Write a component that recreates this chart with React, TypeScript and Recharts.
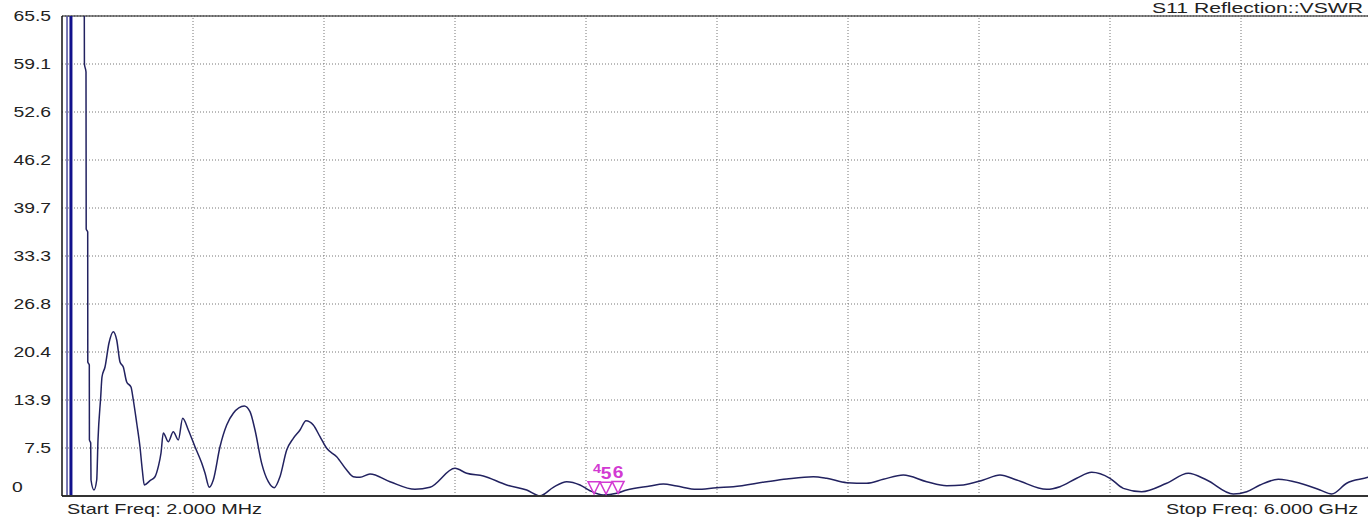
import React from 'react';
import {
  ComposedChart,
  Line,
  Scatter,
  XAxis,
  YAxis,
  CartesianGrid,
  ReferenceLine,
} from 'recharts';

// Frequency in MHz
const FREQ = [
  104.1, 104.6, 111.9, 112.8, 119.7, 120.1, 127.0, 127.5, 133.4, 134.8,
  148.5, 160.9, 166.8, 179.2, 185.1, 198.9, 217.2, 236.9, 252.5, 267.6,
  282.7, 298.2, 317.9, 328.5, 344.0, 359.1, 369.7, 378.8, 404.9, 427.8,
  442.9, 455.3, 465.8, 488.7, 511.6, 534.5, 554.6, 580.3, 610.9, 641.6,
  656.7, 676.4, 694.7, 725.4, 756.1, 786.3, 836.7, 862.8, 885.7, 916.3,
  946.6, 974.0, 1000.1, 1030.8, 1061.0, 1091.7, 1119.2, 1152.6, 1183.3, 1213.9,
  1259.7, 1305.5, 1335.7, 1366.4, 1412.2, 1503.8, 1618.2, 1686.9, 1801.4, 1855.0,
  1931.0, 2038.1, 2129.7, 2190.6, 2251.5, 2312.9, 2373.7, 2419.5, 2480.4, 2541.8,
  2587.6, 2694.3, 2755.2, 2816.6, 2908.1, 2999.7, 3075.7, 3228.6, 3320.2, 3442.0,
  3503.4, 3595.0, 3686.4, 3762.4, 3854.0, 3961.2, 4052.7, 4128.7, 4220.3, 4296.7,
  4373.2, 4510.6, 4571.4, 4647.9, 4716.6, 4800.4, 4861.3, 4945.5, 5060.0, 5158.9,
  5243.2, 5364.9, 5426.3, 5487.2, 5571.0, 5670.3, 5761.9, 5815.4, 5884.1, 5981.6,
  6000,
];

// VSWR values
const VSWR = [
  65.5, 59.05, 57.98, 36.88, 36.48, 19.0, 18.6, 8.53, 8.12, 3.15,
  1.81, 3.15, 8.53, 14.3, 16.99, 18.33, 21.56, 23.08, 21.96, 19.0,
  18.33, 16.32, 15.65, 13.9, 10.81, 7.58, 4.49, 2.48, 3.06, 3.59,
  4.94, 6.78, 9.47, 8.3, 9.64, 8.53, 11.44, 9.87, 7.62, 5.43,
  4.09, 2.17, 3.15, 7.62, 10.54, 12.11, 13.09, 12.33, 9.87, 5.39,
  2.92, 2.12, 3.59, 7.18, 8.75, 9.87, 11.12, 10.54, 8.97, 7.41,
  6.28, 4.49, 3.59, 3.51, 3.96, 2.92, 1.9, 2.17, 4.72, 4.05,
  3.69, 2.48, 1.81, 1.04, 2.17, 2.92, 2.48, 1.71, 1.13, 1.36,
  1.81, 2.34, 2.61, 2.34, 1.9, 2.12, 2.25, 2.92, 3.28, 3.59,
  3.38, 2.79, 2.71, 3.24, 3.82, 2.92, 2.38, 2.48, 3.15, 3.82,
  3.15, 1.9, 2.25, 3.38, 4.18, 3.38, 2.03, 1.58, 2.71, 4.05,
  3.15, 1.27, 1.58, 2.48, 3.24, 2.71, 1.81, 1.27, 2.71, 3.51,
  3.7,
];

const Y_TICKS = [1, 7.45, 13.9, 20.35, 26.8, 33.25, 39.7, 46.15, 52.6, 59.05, 65.5];
const Y_TICK_LABELS = ['0', '7.5', '13.9', '20.4', '26.8', '33.3', '39.7', '46.2', '52.6', '59.1', '65.5'];
const X_TICKS = [2, 601.8, 1201.6, 1801.4, 2401.2, 3001, 3600.8, 4200.6, 4800.4, 5400.2, 6000];

const MARKER_FREQ = [2438, 2493, 2548];
const MARKER_VSWR = [1.3, 1.25, 1.35];
const MARKER_LABELS = ['4', '5', '6'];

const BAND_LINES = [25, 43];

const TITLE = 'S11 Reflection::VSWR';
const START_LABEL = 'Start Freq: 2.000 MHz';
const STOP_LABEL = 'Stop Freq: 6.000 GHz';

const traceData = FREQ.map((f, i) => ({ f, v: VSWR[i] }));
const markerData = MARKER_FREQ.map((f, i) => ({ f, v: MARKER_VSWR[i], label: MARKER_LABELS[i] }));

const FONT = '"Liberation Sans", Arial, sans-serif';
const MAGENTA = '#d23ad2';

const YTick = (props: any) => {
  const { x, y, index } = props;
  const label = Y_TICK_LABELS[index];
  if (index === 0) {
    return (
      <g transform={`translate(12,${y - 4})`}>
        <text transform="scale(1.38,1)" textAnchor="start" fontSize={14} fill="#222" fontFamily={FONT}>
          {label}
        </text>
      </g>
    );
  }
  return (
    <g transform={`translate(${x},${y + 5})`}>
      <text transform="scale(1.38,1)" textAnchor="end" fontSize={14} fill="#222" fontFamily={FONT}>
        {label}
      </text>
    </g>
  );
};

const MarkerShape = (props: any) => {
  const { cx, cy, payload } = props;
  const small = payload.label === '4';
  return (
    <g>
      <polygon
        points={`${cx - 6},${cy - 12} ${cx + 6},${cy - 12} ${cx},${cy}`}
        fill="none"
        stroke={MAGENTA}
        strokeWidth={1.5}
      />
      <g transform={`translate(${small ? cx + 3 : cx},${small ? cy - 21 : cy - 15})`}>
        <text
          transform="scale(1.2,1)"
          textAnchor="middle"
          fontSize={small ? 12 : 16}
          fontWeight="bold"
          fill={MAGENTA}
          fontFamily={FONT}
        >
          {payload.label}
        </text>
      </g>
    </g>
  );
};

export default function App() {
  return (
    <div
      style={{
        position: 'absolute',
        left: 0,
        top: 0,
        width: 1368,
        height: 517,
        overflow: 'hidden',
        background: '#fff',
        fontFamily: FONT,
      }}
    >
      <ComposedChart
        width={1372}
        height={517}
        data={traceData}
        margin={{ top: 16, right: 0, bottom: 0, left: 0 }}
      >
        <CartesianGrid stroke="#777" strokeDasharray="1 2" vertical={false} horizontal />
        {X_TICKS.slice(1).map((t) => (
          <ReferenceLine key={t} x={t} stroke="#777" strokeDasharray="1 2" />
        ))}
        <XAxis
          dataKey="f"
          type="number"
          domain={[2, 6000]}
          ticks={X_TICKS}
          tick={false}
          tickLine={false}
          height={21}
          axisLine={{ stroke: '#333', strokeWidth: 2 }}
          allowDataOverflow
        />
        <YAxis
          type="number"
          domain={[1, 65.5]}
          ticks={Y_TICKS}
          width={62}
          tick={<YTick />}
          tickLine={false}
          tickSize={0}
          tickMargin={11}
          axisLine={{ stroke: '#111', strokeWidth: 1.5 }}
          allowDataOverflow
        />
        <ReferenceLine y={65.5} stroke="#111" strokeWidth={1.2} />
        <ReferenceLine x={BAND_LINES[0]} stroke="#4a4a9a" strokeWidth={1.5} />
        <ReferenceLine x={BAND_LINES[1]} stroke="#12128c" strokeWidth={3} />
        <Line
          type="monotone"
          dataKey="v"
          stroke="#222260"
          strokeWidth={1.5}
          dot={false}
          isAnimationActive={false}
        />
        <Scatter
          data={markerData}
          dataKey="v"
          shape={<MarkerShape />}
          isAnimationActive={false}
        />
      </ComposedChart>
      <svg
        width={1368}
        height={517}
        style={{ position: 'absolute', left: 0, top: 0, pointerEvents: 'none' }}
      >
        <text x={1363} y={13} textAnchor="end" fontSize={14} fill="#222" fontFamily={FONT} textLength={211} lengthAdjust="spacingAndGlyphs">
          {TITLE}
        </text>
        <text x={67} y={514} textAnchor="start" fontSize={15} fill="#222" fontFamily={FONT} textLength={195} lengthAdjust="spacingAndGlyphs">
          {START_LABEL}
        </text>
        <text x={1358} y={514} textAnchor="end" fontSize={15} fill="#222" fontFamily={FONT} textLength={192} lengthAdjust="spacingAndGlyphs">
          {STOP_LABEL}
        </text>
      </svg>
    </div>
  );
}
